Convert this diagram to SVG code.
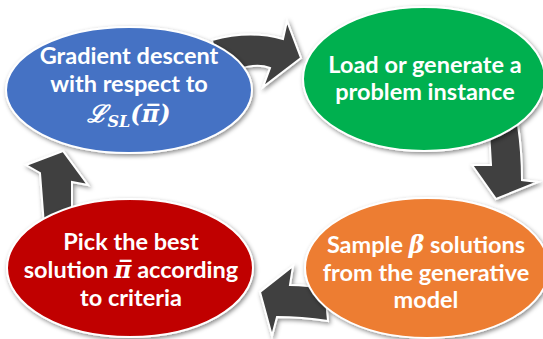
<svg xmlns="http://www.w3.org/2000/svg" width="543" height="339" viewBox="0 0 543 339">
<defs>
<filter id="sh" x="-20%" y="-20%" width="140%" height="140%">
<feDropShadow dx="1.5" dy="2" stdDeviation="2.2" flood-color="#000" flood-opacity="0.45"/>
</filter>
</defs>
<style>
.arrow{fill:#404040;stroke:#fff;stroke-width:2;stroke-linejoin:miter;filter:url(#sh)}
.node{stroke:#fff;stroke-width:2;filter:url(#sh)}
.t{font-family:"Lato","Liberation Sans",sans-serif;font-weight:700;font-size:23.5px;fill:#fff;text-anchor:middle}
.m{font-family:"DejaVu Serif","Liberation Serif",serif;font-style:italic;font-weight:700}
</style>
<g id="connectors">
<path class="arrow" d="M212,40 C238,33 262,33 283,39 L287,21 L301,58 L263,87 L270,68 C258,63 240,66 220,78 Z"/>
<path class="arrow" d="M489,130 L491,165 L472,165 L496,199 L538,182 L522,180 C522,165 521,145 518,125 Z"/>
<path class="arrow" d="M325,289 C312,286 300,285 290,285 L293,266 L260,292 L272,336 L277,317 C292,317 308,318 328,321 Z"/>
<path class="arrow" d="M44,225 L40,173 L26,165 L63,151 L88,185 L72,182 L72,215 Z"/>
</g>
<g id="n1">
<ellipse class="node" cx="129" cy="90" rx="123" ry="63" fill="#4472C4"/>
<text class="t" x="129" y="64">Gradient descent</text>
<text class="t" x="129" y="92">with respect to</text>
<text class="t" x="129" y="122"><tspan class="m" font-size="24">ℒ</tspan><tspan class="m" font-size="16" dy="5">SL</tspan><tspan class="m" font-size="24" dy="-5">(π̅)</tspan></text>
</g>
<g id="n2">
<ellipse class="node" cx="424" cy="79" rx="121" ry="72" fill="#00B050"/>
<text class="t" x="425" y="73">Load or generate a</text>
<text class="t" x="425" y="100">problem instance</text>
</g>
<g id="n3">
<ellipse class="node" cx="427" cy="268" rx="122" ry="70" fill="#ED7D31"/>
<text class="t" x="426" y="253">Sample <tspan class="m">β</tspan> solutions</text>
<text class="t" x="426" y="281">from the generative</text>
<text class="t" x="426" y="308">model</text>
</g>
<g id="n4">
<ellipse class="node" cx="130" cy="268" rx="123" ry="69" fill="#C00000"/>
<text class="t" x="131" y="250">Pick the best</text>
<text class="t" x="131" y="278">solution <tspan class="m">π̅</tspan> according</text>
<text class="t" x="131" y="306">to criteria</text>
</g>
</svg>
